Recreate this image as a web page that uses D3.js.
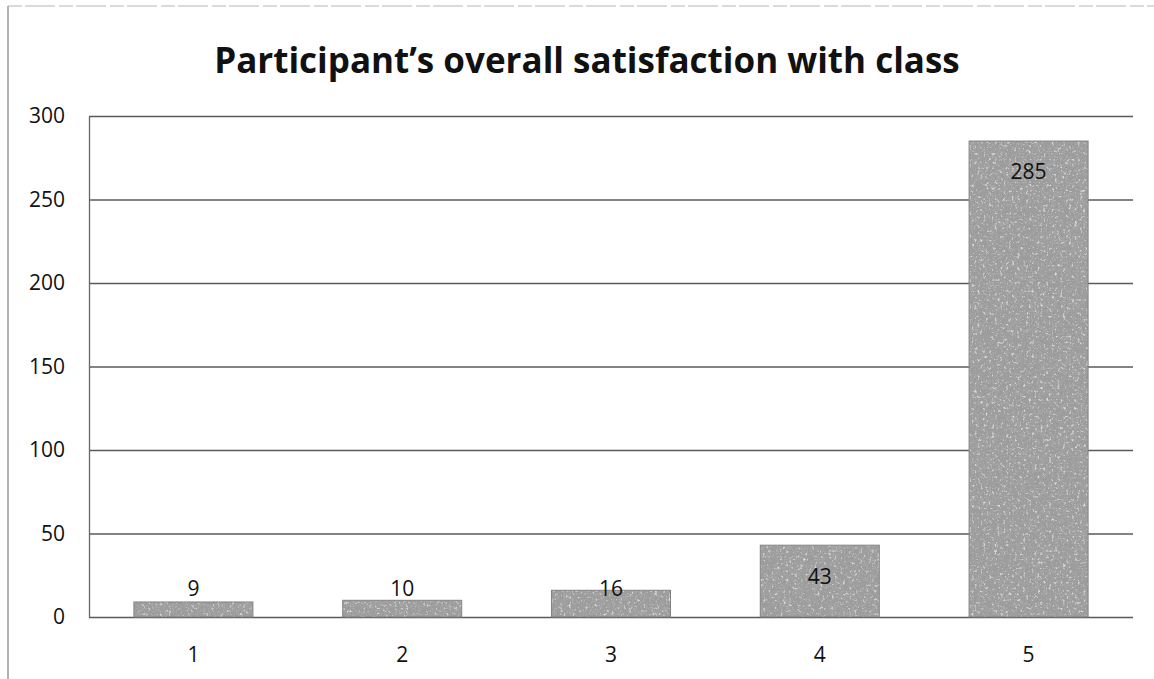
<!DOCTYPE html>
<html>
<head>
<meta charset="utf-8">
<script src="https://cdn.jsdelivr.net/npm/d3@7"></script>
<style>
  body { margin: 0; background: #fff; }
  svg { display: block; font-family: "Open Sans", "Liberation Sans", sans-serif; }
</style>
</head>
<body>
<svg id="chart" width="1154" height="679"></svg>
<script>
// Chart data
const categories = ["1", "2", "3", "4", "5"];
const counts = [9, 10, 16, 43, 285];
const yTicks = [0, 50, 100, 150, 200, 250, 300];
const title = "Participant\u2019s overall satisfaction with class";

const svg = d3.select("#chart");
const width = 1154, height = 679;
const margin = { top: 116, right: 21, bottom: 62, left: 89 };
const plotW = width - margin.left - margin.right;
const plotH = height - margin.top - margin.bottom;

// Grainy gray texture like the scanned bars
const defs = svg.append("defs");
const filt = defs.append("filter").attr("id", "grain")
  .attr("x", 0).attr("y", 0).attr("width", 1).attr("height", 1);
filt.append("feTurbulence").attr("type", "fractalNoise")
  .attr("baseFrequency", 0.35).attr("numOctaves", 3).attr("seed", 3).attr("result", "noise");
// dark speckles
filt.append("feColorMatrix").attr("in", "noise").attr("type", "matrix")
  .attr("values", "0 0 0 0 0.42  0 0 0 0 0.42  0 0 0 0 0.42  3.5 0 0 0 -1.9")
  .attr("result", "dark");
// light speckles
filt.append("feColorMatrix").attr("in", "noise").attr("type", "matrix")
  .attr("values", "0 0 0 0 0.78  0 0 0 0 0.78  0 0 0 0 0.78  -3.5 0 0 0 1.45")
  .attr("result", "light");
filt.append("feMerge").selectAll("feMergeNode")
  .data(["SourceGraphic", "dark", "light"]).enter()
  .append("feMergeNode").attr("in", d => d);
filt.append("feComposite").attr("in2", "SourceGraphic").attr("operator", "in");

// Outer frame (scan edges)
svg.append("line").attr("x1", 8).attr("x2", 8).attr("y1", 6).attr("y2", 679)
  .attr("stroke", "#9a9a9a").attr("stroke-width", 1.5);
svg.append("line").attr("x1", 8).attr("x2", 1154).attr("y1", 6).attr("y2", 6)
  .attr("stroke", "#b5b5b5").attr("stroke-width", 1).attr("stroke-dasharray", "14 3 30 4");

svg.append("text")
  .attr("x", 587).attr("y", 73)
  .attr("text-anchor", "middle")
  .attr("font-size", 35).attr("font-weight", "bold").attr("fill", "#111")
  .text(title);

const g = svg.append("g").attr("transform", `translate(${margin.left},${margin.top})`);

const x = d3.scaleBand().domain(categories).range([0, plotW]).paddingInner(0.43).paddingOuter(0.215);
const y = d3.scaleLinear().domain([0, 300]).range([plotH, 0]);

// Gridlines
g.append("g")
  .call(d3.axisLeft(y).tickValues(yTicks).tickSize(-plotW).tickFormat(""))
  .call(s => s.select(".domain").remove())
  .call(s => s.selectAll("line").attr("stroke", "#5a5a5a").attr("stroke-width", 1.3));

// Y axis line and labels
g.append("g")
  .call(d3.axisLeft(y).tickValues(yTicks).tickSize(0).tickPadding(24))
  .call(s => s.select(".domain").attr("stroke", "#666").attr("stroke-width", 1.3))
  .call(s => s.selectAll("text").attr("font-size", 21).attr("fill", "#111")
    .attr("font-family", "'Open Sans', sans-serif"));

// X axis labels
g.append("g")
  .attr("transform", `translate(0,${plotH})`)
  .call(d3.axisBottom(x).tickSize(0).tickPadding(30))
  .call(s => s.select(".domain").remove())
  .call(s => s.selectAll("text").attr("font-size", 21).attr("fill", "#111")
    .attr("font-family", "'Open Sans', sans-serif"));

// Bars
g.selectAll("rect.bar")
  .data(counts)
  .enter()
  .append("rect")
  .attr("class", "bar")
  .attr("x", (d, i) => x(categories[i]))
  .attr("y", d => y(d))
  .attr("width", x.bandwidth())
  .attr("height", d => plotH - y(d))
  .attr("fill", "#9c9c9c")
  .attr("filter", "url(#grain)");

g.selectAll("rect.edge")
  .data(counts)
  .enter()
  .append("rect")
  .attr("class", "edge")
  .attr("x", (d, i) => x(categories[i]))
  .attr("y", d => y(d))
  .attr("width", x.bandwidth())
  .attr("height", d => plotH - y(d))
  .attr("fill", "none")
  .attr("stroke", "#808080")
  .attr("stroke-width", 1);

// Value labels (inside end, pushed up for short bars)
g.selectAll("text.val")
  .data(counts)
  .enter()
  .append("text")
  .attr("class", "val")
  .attr("x", (d, i) => x(categories[i]) + x.bandwidth() / 2)
  .attr("y", d => Math.min(y(d) + 31, plotH - 28))
  .attr("dy", "0.35em")
  .attr("text-anchor", "middle")
  .attr("font-size", 21)
  .attr("fill", "#111")
  .text(d => d);
</script>
</body>
</html>
